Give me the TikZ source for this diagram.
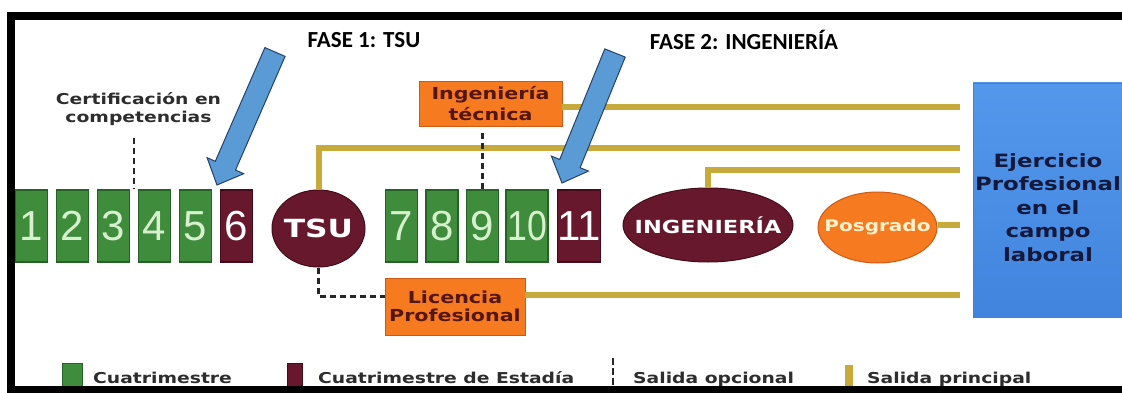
\documentclass[tikz,border=0pt]{standalone}
\usepackage{fontspec}
\setmainfont{DejaVu Sans}
\newfontfamily\wf[FakeStretch=1.25]{DejaVu Sans}
\newfontfamily\numf{Liberation Sans}
\newfontfamily\hdf{Carlito}
\usetikzlibrary{calc,shapes.geometric}
\definecolor{cgreen}{RGB}{62,140,60}
\definecolor{cgreenD}{RGB}{38,98,38}
\definecolor{cmaroon}{RGB}{104,24,44}
\definecolor{cmaroonD}{RGB}{68,12,26}
\definecolor{corange}{RGB}{245,122,32}
\definecolor{corangeD}{RGB}{205,90,20}
\definecolor{cgold}{RGB}{198,170,60}
\definecolor{cblue}{RGB}{91,155,213}
\definecolor{cblueD}{RGB}{35,65,105}
\definecolor{cboxT}{RGB}{84,152,236}
\definecolor{cboxB}{RGB}{64,132,222}
\definecolor{cnavy}{RGB}{20,25,60}
\definecolor{cbrown}{RGB}{85,22,18}
\definecolor{cdigit}{RGB}{215,240,205}
\definecolor{ccream}{RGB}{255,242,205}
\definecolor{ctext}{RGB}{45,45,45}
\begin{document}
\begin{tikzpicture}[x=1pt,y=-1pt,
  gbox/.style={draw=cgreenD, fill=cgreen, line width=1.2pt, minimum width=32pt, minimum height=72pt, inner sep=0pt, text=cdigit, font=\numf\fontsize{42}{42}\selectfont},
  mbox/.style={gbox, draw=cmaroonD, fill=cmaroon, text=white},
  oval/.style={ellipse, draw=cmaroonD, fill=cmaroon, line width=1pt, inner sep=0pt, text=white},
  obox/.style={draw=corangeD, fill=corange, line width=0.8pt, inner sep=0pt, align=center, text=cbrown},
  gold/.style={cgold, line width=6pt, shorten >=13pt},
  opt/.style={black!85, line width=2.2pt, dash pattern=on 6pt off 4pt},
  pointer/.style={fill=cblue, draw=cblueD, line width=1pt, line join=miter},
  hdr/.style={inner sep=0pt, font=\hdf\bfseries\fontsize{23}{27}\selectfont},
  leg/.style={anchor=base west, inner sep=0pt, text=ctext, font=\wf\bfseries\fontsize{15}{18}\selectfont},
]
\fill[white] (0,0) rectangle (1122,393);
\useasboundingbox (0,0) rectangle (1122,393);

% headers
\node[hdr] (f1) at (364,40) {FASE 1: TSU};
\node[hdr] (f2) at (744,40) {FASE 2: INGENIERÍA};

% certification label
\node[align=center, inner sep=0pt, text=ctext, font=\wf\bfseries\fontsize{15}{18.5}\selectfont] (cert) at (138.5,109) {Certificación en\\competencias};

% semesters
\node[gbox] (b1) at (31.5,226) {1};
\node[gbox] (b2) at (72.5,226) {2};
\node[gbox] (b3) at (113.5,226) {3};
\node[gbox] (b4) at (154.5,226) {4};
\node[gbox] (b5) at (195.5,226) {5};
\node[mbox] (b6) at (236.5,226) {6};
\node[gbox] (b7) at (401.5,226) {7};
\node[gbox] (b8) at (442,226) {8};
\node[gbox] (b9) at (482.5,226) {9};
\node[gbox, minimum width=42pt] (b10) at (527,226) {\scalebox{0.85}[1]{10}};
\node[mbox, minimum width=42pt] (b11) at (579,226) {11};

% ovals
\node[oval, minimum width=93pt, minimum height=77pt, font=\wf\bfseries\fontsize{25}{25}\selectfont] (tsu) at (318.5,228.5) {\makebox[0pt]{TSU}};
\node[oval, minimum width=170pt, minimum height=74pt, font=\wf\bfseries\fontsize{18}{18}\selectfont] (ing) at (708,225) {\makebox[0pt]{INGENIERÍA}};
\node[ellipse, draw=corangeD, fill=corange, line width=1pt, inner sep=0pt, minimum width=119pt, minimum height=71pt, text=ccream, font=\wf\bfseries\fontsize{16}{16}\selectfont] (posg) at (877.5,227.5) {\makebox[0pt]{Posgrado}};

% orange boxes
\node[obox, minimum width=143pt, minimum height=45pt, font=\wf\bfseries\fontsize{16.5}{21}\selectfont] (ingtec) at (490.5,103.5) {Ingeniería\\técnica};
\node[obox, minimum width=140pt, minimum height=57pt, font=\wf\bfseries\fontsize{16.5}{18.5}\selectfont] (lic) at (455,306.5) {Licencia\\Profesional};

% destination box
\node[draw=cblueD!70, top color=cboxT, bottom color=cboxB, line width=0.8pt, minimum width=150pt, minimum height=234pt, inner sep=0pt] (ejer) at (1048,200) {};
\node[align=center, inner sep=0pt, text=cnavy, font=\wf\bfseries\fontsize{18.3}{23.5}\selectfont] (ejert) at (1048,207.5) {Ejercicio\\Profesional\\en el\\campo\\laboral};

% exits
\coordinate (e1) at (ejer.west |- 0,107);
\coordinate (e2) at (ejer.west |- 0,148);
\coordinate (e3) at (ejer.west |- 0,170);
\coordinate (e4) at (ejer.west |- 0,225);
\coordinate (e5) at (ejer.west |- 0,295);
\draw[gold] (ingtec.east |- e1) -- (e1);
\draw[gold] (tsu.north) |- (e2);
\draw[gold] (ing.north) |- (e3);
\draw[gold] (posg.east |- e4) -- (e4);
\draw[gold] (lic.east |- e5) -- (e5);

% optional exits
\coordinate (c34) at ($(b3.north east)!0.5!(b4.north west)$);
\draw[opt, shorten <=12pt] (cert.south -| c34) -- (c34);
\draw[opt, shorten <=7pt] (ingtec.south -| b9.north) -- (b9.north);
\draw[opt] (tsu.south) |- ($(lic.west)+(0,-10)$);

% phase pointers
\draw[pointer] (217,185) -- (243.7,173.7) -- (235.5,170.1) -- (285.1,56.4) -- (264.9,47.6) -- (215.3,161.3) -- (207.1,157.7) -- cycle;
\draw[pointer] (562,183) -- (588.4,171.1) -- (580.1,167.7) -- (625.2,57.1) -- (604.8,48.9) -- (559.7,159.5) -- (551.4,156.1) -- cycle;

% legend
\node[fill=cgreen, draw=cgreenD, line width=0.8pt, minimum width=20pt, minimum height=25pt, inner sep=0pt] (lg1) at (72,375.5) {};
\node[leg] (lt1) at (93,383) {Cuatrimestre};
\node[fill=cmaroon, draw=cmaroonD, line width=0.8pt, minimum width=15pt, minimum height=25pt, inner sep=0pt] (lg2) at (294.5,375.5) {};
\node[leg] (lt2) at (318,383) {Cuatrimestre de Estadía};
\coordinate (ld1) at (613,358);
\coordinate (ld2) at (613,386);
\draw[opt, dash pattern=on 7pt off 3pt] (ld1) -- (ld2);
\node[leg] (lt3) at (633,383) {Salida opcional};
\node[fill=cgold, minimum width=8pt, minimum height=22pt, inner sep=0pt] (lg4) at (849,376) {};
\node[leg] (lt4) at (867,383) {Salida principal};

% frame
\draw[line width=8pt] (1135,16) -- (11,16) -- (11,390) -- (1135,390);
\end{tikzpicture}
\end{document}
